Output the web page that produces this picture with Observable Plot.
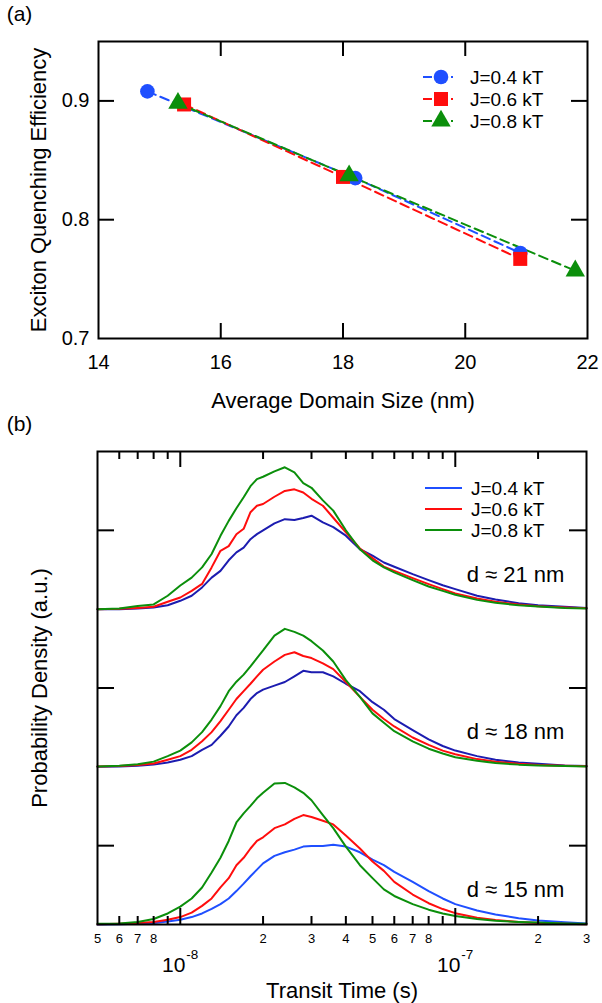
<!DOCTYPE html>
<html><head><meta charset="utf-8">
<script src="https://cdn.jsdelivr.net/npm/d3@7"></script>
<script src="https://cdn.jsdelivr.net/npm/@observablehq/plot@0.6"></script>
<style>
html,body{margin:0;padding:0;background:#fff;}
#chart{position:relative;width:602px;height:1003px;font-family:"Liberation Sans",Arial,sans-serif;}
#chart svg{display:block;overflow:visible;position:relative;}
</style></head><body><div id="chart"></div>
<script>
// ---------- Panel (a) data ----------
const seriesNames = ["J=0.4 kT", "J=0.6 kT", "J=0.8 kT"];
const sizeJ04 = [14.8, 18.2, 20.9];
const effJ04  = [0.908, 0.835, 0.772];
const sizeJ06 = [15.4, 18.0, 20.9];
const effJ06  = [0.897, 0.836, 0.767];
const sizeJ08 = [15.3, 18.1, 21.8];
const effJ08  = [0.898, 0.837, 0.757];
const xTicksA = [14, 16, 18, 20, 22];
const yTicksA = [0.7, 0.8, 0.9];

// ---------- Panel (b) data ----------
const transitTime = [5e-9, 6e-9, 7e-9, 8e-9, 9e-9, 1e-8, 1.1e-8, 1.2e-8, 1.3e-8, 1.4e-8, 1.5e-8, 1.6e-8, 1.7e-8, 1.8e-8, 1.9e-8, 2e-8, 2.2e-8, 2.4e-8, 2.6e-8, 2.8e-8, 3e-8, 3.3e-8, 3.6e-8, 4e-8, 4.5e-8, 5e-8, 5.5e-8, 6e-8, 7e-8, 8e-8, 9e-8, 1e-7, 1.2e-7, 1.4e-7, 1.7e-7, 2e-7, 2.5e-7, 3e-7];
// d ≈ 21 nm
const d21J04 = [0, 0, 0.004, 0.01, 0.025, 0.053, 0.085, 0.138, 0.20, 0.243, 0.31, 0.36, 0.39, 0.444, 0.476, 0.50, 0.544, 0.571, 0.565, 0.578, 0.593, 0.55, 0.52, 0.466, 0.38, 0.339, 0.296, 0.269, 0.222, 0.184, 0.152, 0.127, 0.085, 0.061, 0.038, 0.025, 0.015, 0.008];
const d21J06 = [0, 0.002, 0.008, 0.015, 0.047, 0.074, 0.116, 0.16, 0.265, 0.37, 0.40, 0.475, 0.51, 0.615, 0.656, 0.667, 0.713, 0.75, 0.76, 0.74, 0.70, 0.656, 0.58, 0.487, 0.385, 0.324, 0.27, 0.243, 0.197, 0.159, 0.127, 0.10, 0.068, 0.047, 0.03, 0.019, 0.011, 0.006];
const d21J08 = [0, 0.004, 0.02, 0.03, 0.085, 0.15, 0.20, 0.265, 0.35, 0.465, 0.56, 0.64, 0.71, 0.78, 0.825, 0.84, 0.874, 0.90, 0.868, 0.80, 0.77, 0.69, 0.625, 0.50, 0.38, 0.31, 0.265, 0.233, 0.184, 0.144, 0.116, 0.091, 0.059, 0.04, 0.025, 0.017, 0.008, 0.004];
// d ≈ 18 nm
const d18J04 = [0, 0.002, 0.007, 0.014, 0.028, 0.045, 0.068, 0.108, 0.139, 0.197, 0.256, 0.327, 0.374, 0.43, 0.468, 0.49, 0.515, 0.538, 0.574, 0.609, 0.60, 0.60, 0.574, 0.527, 0.48, 0.41, 0.362, 0.303, 0.233, 0.174, 0.132, 0.103, 0.068, 0.045, 0.028, 0.019, 0.009, 0.005];
const d18J06 = [0.002, 0.005, 0.012, 0.021, 0.045, 0.068, 0.108, 0.162, 0.22, 0.29, 0.362, 0.43, 0.48, 0.527, 0.574, 0.616, 0.668, 0.71, 0.727, 0.703, 0.69, 0.656, 0.62, 0.538, 0.444, 0.362, 0.303, 0.256, 0.186, 0.139, 0.103, 0.08, 0.049, 0.033, 0.019, 0.012, 0.007, 0.004];
const d18J08 = [0.002, 0.007, 0.016, 0.033, 0.068, 0.103, 0.155, 0.22, 0.30, 0.385, 0.48, 0.54, 0.585, 0.637, 0.69, 0.738, 0.832, 0.875, 0.856, 0.832, 0.797, 0.738, 0.668, 0.55, 0.444, 0.339, 0.28, 0.226, 0.162, 0.115, 0.085, 0.061, 0.038, 0.024, 0.014, 0.009, 0.005, 0.002];
// d ≈ 15 nm
const d15J04 = [0, 0.002, 0.005, 0.009, 0.019, 0.03, 0.047, 0.07, 0.099, 0.129, 0.165, 0.212, 0.259, 0.306, 0.348, 0.388, 0.435, 0.458, 0.475, 0.494, 0.498, 0.498, 0.506, 0.494, 0.458, 0.411, 0.376, 0.334, 0.27, 0.212, 0.165, 0.129, 0.089, 0.063, 0.04, 0.026, 0.014, 0.007];
const d15J06 = [0.002, 0.005, 0.009, 0.016, 0.03, 0.047, 0.075, 0.118, 0.165, 0.235, 0.294, 0.376, 0.423, 0.482, 0.53, 0.553, 0.611, 0.635, 0.67, 0.694, 0.682, 0.658, 0.635, 0.564, 0.482, 0.40, 0.34, 0.27, 0.19, 0.135, 0.098, 0.072, 0.043, 0.028, 0.016, 0.009, 0.005, 0.002];
const d15J08 = [0.005, 0.007, 0.016, 0.035, 0.07, 0.113, 0.165, 0.235, 0.33, 0.423, 0.53, 0.647, 0.705, 0.752, 0.80, 0.835, 0.894, 0.898, 0.87, 0.835, 0.788, 0.694, 0.611, 0.494, 0.376, 0.294, 0.223, 0.181, 0.129, 0.094, 0.07, 0.054, 0.035, 0.024, 0.016, 0.012, 0.007, 0.005];

const groupLabels  = ["d ≈ 21 nm", "d ≈ 18 nm", "d ≈ 15 nm"];
const groupOffsets = [2, 1, 0];
const groupCurves  = [[d21J04, d21J06, d21J08], [d18J04, d18J06, d18J08], [d15J04, d15J06, d15J08]];
const majorTicksB = [1e-8, 1e-7];
const minorTicksB = [6e-9, 7e-9, 8e-9, 9e-9, 2e-8, 3e-8, 4e-8, 5e-8, 6e-8, 7e-8, 8e-8, 9e-8, 2e-7];
const tickLabelsB = [5e-9, 6e-9, 7e-9, 8e-9, 2e-8, 3e-8, 4e-8, 5e-8, 6e-8, 7e-8, 8e-8, 2e-7, 3e-7];
const tickTextB   = ["5", "6", "7", "8", "2", "3", "4", "5", "6", "7", "8", "2", "3"];
const yTicksB = [0.5, 1.5, 2.5];

// ---------- styles ----------
const FONT = "Liberation Sans, Arial, sans-serif";
const colA = ["#1f4fff", "#ff0d0d", "#0b8f0b"];
const symA = ["circle", "square", "triangle"];
const rA = [7.3, 7.9, 7.2];
const colB = ["#1f4fff", "#ff0d0d", "#0b8f0b"];
const colBdark = "#1c1cb0";

const chart = document.getElementById("chart");

// ---------- Panel (a) ----------
const WA = 602, HA = 420, mlA = 98, mrA = 15, mtA = 41, mbA = 82;
const fwA = WA - mlA - mrA, fhA = HA - mtA - mbA;
const sizes = [sizeJ04, sizeJ06, sizeJ08];
const effs = [effJ04, effJ06, effJ08];
const rowsA = seriesNames.map((s, k) => sizes[k].map((x, i) => ({series: s, size: x, eff: effs[k][i]})));

const marksA = [];
rowsA.forEach((rows, k) => {
  marksA.push(Plot.line(rows, {x: "size", y: "eff", stroke: colA[k], strokeWidth: 2, strokeDasharray: "9,5"}));
});
rowsA.forEach((rows, k) => {
  marksA.push(Plot.dot(rows, {x: "size", y: "eff", symbol: () => symA[k], r: rA[k], fill: colA[k], stroke: "none"}));
});
const innerXA = xTicksA.slice(1, -1), innerYA = yTicksA.slice(1);
marksA.push(
  Plot.frame({stroke: "black", strokeWidth: 2}),
  Plot.ruleX(innerXA, {x: d => d, insetTop: fhA - 15, stroke: "black", strokeWidth: 2}),
  Plot.ruleX(innerXA, {x: d => d, insetBottom: fhA - 15, stroke: "black", strokeWidth: 2}),
  Plot.ruleY(innerYA, {y: d => d, insetRight: fwA - 16, stroke: "black", strokeWidth: 2}),
  Plot.ruleY(innerYA, {y: d => d, insetLeft: fwA - 16, stroke: "black", strokeWidth: 2}),
  Plot.text(xTicksA, {x: d => d, text: d => String(d), frameAnchor: "bottom", dy: 24, fontSize: 20, textAnchor: "middle", lineAnchor: "middle"}),
  Plot.text(yTicksA, {y: d => d, text: d => d.toFixed(1), frameAnchor: "left", dx: -9, fontSize: 20, textAnchor: "end", lineAnchor: "middle"}),
  Plot.text(["Average Domain Size (nm)"], {frameAnchor: "bottom", dy: 62, fontSize: 22, textAnchor: "middle", lineAnchor: "middle"}),
  Plot.text(["Exciton Quenching Efficiency"], {frameAnchor: "left", dx: -60, rotate: -90, fontSize: 22, textAnchor: "middle", lineAnchor: "middle"}),
  Plot.text(["(a)"], {frameAnchor: "top-left", dx: -79, dy: -27, fontSize: 21, textAnchor: "middle", lineAnchor: "middle"})
);

const plotA = Plot.plot({
  width: WA, height: HA, marginLeft: mlA, marginRight: mrA, marginTop: mtA, marginBottom: mbA,
  style: {fontFamily: FONT, background: "none", color: "black", overflow: "visible"},
  x: {domain: [14, 22], axis: null},
  y: {domain: [0.7, 0.95], axis: null},
  marks: marksA
});
chart.appendChild(plotA);

// legend (a)
{
  const svg = d3.select(plotA);
  const g = svg.append("g").attr("font-family", FONT).attr("font-size", 19).attr("text-anchor", "start");
  seriesNames.forEach((s, k) => {
    const y = 77 + k * 22;
    g.append("line").attr("x1", 423).attr("x2", 453).attr("y1", y).attr("y2", y)
      .attr("stroke", colA[k]).attr("stroke-width", 2).attr("stroke-dasharray", "9,5");
    const sym = {circle: d3.symbolCircle, square: d3.symbolSquare, triangle: d3.symbolTriangle}[symA[k]];
    g.append("path").attr("d", d3.symbol(sym, rA[k] * rA[k] * Math.PI)())
      .attr("transform", `translate(441,${y})`).attr("fill", colA[k]);
    g.append("text").attr("x", 470).attr("y", y).attr("dy", "0.35em").attr("text-anchor", "start").text(s);
  });
}

// ---------- Panel (b) ----------
const WB = 602, HB = 583, mlB = 97, mrB = 16, mtB = 31, mbB = 79;
const fwB = WB - mlB - mrB, fhB = HB - mtB - mbB;
const marksB = [];
groupCurves.forEach((curves, gi) => {
  [0, 1, 2].forEach(k => {
    const data = transitTime.map((t, i) => ({t, v: curves[k][i] + groupOffsets[gi]}));
    const stroke = (k === 0 && gi < 2) ? colBdark : colB[k];
    marksB.push(Plot.line(data, {x: "t", y: "v", stroke, strokeWidth: 2}));
  });
});
marksB.push(
  Plot.text(groupLabels, {x: () => 1.1e-7, y: (d, i) => groupOffsets[i] + 0.22, text: d => d, fontSize: 22, textAnchor: "start", lineAnchor: "middle"}),
  Plot.frame({stroke: "black", strokeWidth: 2}),
  Plot.ruleX(majorTicksB, {x: d => d, insetTop: fhB - 16, stroke: "black", strokeWidth: 2}),
  Plot.ruleX(majorTicksB, {x: d => d, insetBottom: fhB - 16, stroke: "black", strokeWidth: 2}),
  Plot.ruleX(minorTicksB, {x: d => d, insetTop: fhB - 8, stroke: "black", strokeWidth: 2}),
  Plot.ruleX(minorTicksB, {x: d => d, insetBottom: fhB - 8, stroke: "black", strokeWidth: 2}),
  Plot.ruleY(yTicksB, {y: d => d, insetRight: fwB - 17, stroke: "black", strokeWidth: 2}),
  Plot.ruleY(yTicksB, {y: d => d, insetLeft: fwB - 17, stroke: "black", strokeWidth: 2}),
  Plot.text(tickLabelsB, {x: d => d, text: (d, i) => tickTextB[i], frameAnchor: "bottom", dy: 14, fontSize: 13, textAnchor: "middle", lineAnchor: "middle"}),
  Plot.text(majorTicksB, {x: d => d, text: () => "10", frameAnchor: "bottom", dy: 41, dx: -6.5, fontSize: 21, textAnchor: "middle", lineAnchor: "middle"}),
  Plot.text(majorTicksB, {x: d => d, text: d => String(Math.round(Math.log10(d))), frameAnchor: "bottom", dy: 30, dx: 6, fontSize: 13.5, textAnchor: "start", lineAnchor: "middle"}),
  Plot.text(["Transit Time (s)"], {frameAnchor: "bottom", dy: 66, fontSize: 22, textAnchor: "middle", lineAnchor: "middle"}),
  Plot.text(["Probability Density (a.u.)"], {frameAnchor: "left", dx: -58, rotate: -90, fontSize: 22, textAnchor: "middle", lineAnchor: "middle"}),
  Plot.text(["(b)"], {frameAnchor: "top-left", dx: -78, dy: -27, fontSize: 21, textAnchor: "middle", lineAnchor: "middle"})
);
const plotB = Plot.plot({
  width: WB, height: HB, marginLeft: mlB, marginRight: mrB, marginTop: mtB, marginBottom: mbB,
  style: {fontFamily: FONT, background: "none", color: "black", overflow: "visible"},
  x: {type: "log", domain: [5e-9, 3e-7], axis: null},
  y: {domain: [0, 3], axis: null},
  marks: marksB
});
chart.appendChild(plotB);

// legend (b)
{
  const svg = d3.select(plotB);
  const g = svg.append("g").attr("font-family", FONT).attr("font-size", 19).attr("text-anchor", "start");
  seriesNames.forEach((s, k) => {
    const y = 68 + k * 21;
    g.append("line").attr("x1", 425).attr("x2", 462).attr("y1", y).attr("y2", y)
      .attr("stroke", colB[k]).attr("stroke-width", 2);
    g.append("text").attr("x", 471).attr("y", y).attr("dy", "0.35em").attr("text-anchor", "start").text(s);
  });
}
</script>
</body></html>
